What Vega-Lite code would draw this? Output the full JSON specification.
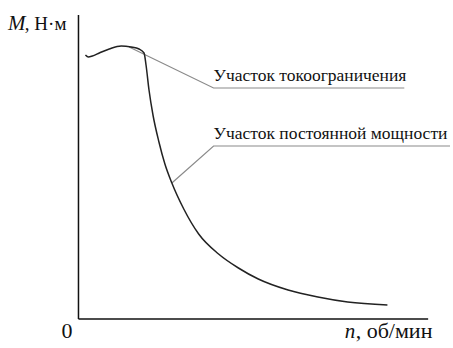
{
  "$schema": "https://vega.github.io/schema/vega-lite/v6.json",
  "width": 453,
  "height": 348,
  "autosize": {"type": "fit", "contains": "padding"},
  "padding": 0,
  "background": "white",
  "config": {"view": {"stroke": null}},
  "datasets": {
    "curve": [
      {"i": 0, "n": 7, "m": 264},
      {"i": 1, "n": 10, "m": 262},
      {"i": 2, "n": 14, "m": 263},
      {"i": 3, "n": 21, "m": 266},
      {"i": 4, "n": 31, "m": 270},
      {"i": 5, "n": 43, "m": 273},
      {"i": 6, "n": 53, "m": 272},
      {"i": 7, "n": 61, "m": 270},
      {"i": 8, "n": 66, "m": 266},
      {"i": 9, "n": 68, "m": 254},
      {"i": 10, "n": 71, "m": 229},
      {"i": 11, "n": 75, "m": 204},
      {"i": 12, "n": 81, "m": 177},
      {"i": 13, "n": 87, "m": 155},
      {"i": 14, "n": 94, "m": 136},
      {"i": 15, "n": 106, "m": 110},
      {"i": 16, "n": 121, "m": 85},
      {"i": 17, "n": 141, "m": 65},
      {"i": 18, "n": 161, "m": 51},
      {"i": 19, "n": 181, "m": 40},
      {"i": 20, "n": 211, "m": 29},
      {"i": 21, "n": 241, "m": 22},
      {"i": 22, "n": 271, "m": 17},
      {"i": 23, "n": 311, "m": 14}
    ],
    "axes": [
      {"n": 0, "m": 0, "n2": 0, "m2": 304},
      {"n": 0, "m": 0, "n2": 352, "m2": 0}
    ],
    "leaders": [
      {"g": "a", "i": 0, "n": 51, "m": 272},
      {"g": "a", "i": 1, "n": 136, "m": 231},
      {"g": "a", "i": 2, "n": 328, "m": 231},
      {"g": "b", "i": 0, "n": 94, "m": 136},
      {"g": "b", "i": 1, "n": 136, "m": 173},
      {"g": "b", "i": 2, "n": 374, "m": 173}
    ],
    "labels": [
      {"t": "Участок токоограничения", "n": 136, "m": 238},
      {"t": "Участок постоянной мощности", "n": 136, "m": 180}
    ],
    "topText": [
      {"t": ", Н·м", "n": -54, "m": 289}
    ],
    "axisText": [
      {"t": "0", "n": -17, "m": -19},
      {"t": ", об/мин", "n": 279, "m": -19}
    ],
    "italicText": [
      {"t": "M", "n": -71, "m": 289},
      {"t": "n", "n": 268, "m": -19}
    ]
  },
  "encoding": {
    "x": {"field": "n", "type": "quantitative", "scale": {"domain": [-79, 374], "nice": false, "zero": false}, "axis": null},
    "y": {"field": "m", "type": "quantitative", "scale": {"domain": [-29, 319], "nice": false, "zero": false}, "axis": null}
  },
  "layer": [
    {
      "data": {"name": "axes"},
      "mark": {"type": "rule", "color": "#111", "strokeWidth": 1.5},
      "encoding": {
        "x2": {"field": "n2"},
        "y2": {"field": "m2"}
      }
    },
    {
      "data": {"name": "leaders"},
      "mark": {"type": "line", "color": "#8a8a8a", "strokeWidth": 1.2},
      "encoding": {
        "detail": {"field": "g"},
        "order": {"field": "i", "type": "quantitative"}
      }
    },
    {
      "data": {"name": "curve"},
      "mark": {"type": "line", "color": "#222", "strokeWidth": 1.5, "interpolate": "monotone"},
      "encoding": {
        "order": {"field": "i", "type": "quantitative"}
      }
    },
    {
      "data": {"name": "labels"},
      "mark": {"type": "text", "align": "left", "baseline": "alphabetic", "font": "Liberation Serif", "fontSize": 17.5, "color": "#111"},
      "encoding": {"text": {"field": "t"}}
    },
    {
      "data": {"name": "topText"},
      "mark": {"type": "text", "align": "left", "baseline": "alphabetic", "font": "Liberation Serif", "fontSize": 19, "color": "#111"},
      "encoding": {"text": {"field": "t"}}
    },
    {
      "data": {"name": "axisText"},
      "mark": {"type": "text", "align": "left", "baseline": "alphabetic", "font": "Liberation Serif", "fontSize": 22, "color": "#111"},
      "encoding": {"text": {"field": "t"}}
    },
    {
      "data": {"name": "italicText"},
      "mark": {"type": "text", "align": "left", "baseline": "alphabetic", "font": "Liberation Serif", "fontSize": 21, "fontStyle": "italic", "color": "#111"},
      "encoding": {"text": {"field": "t"}}
    }
  ]
}
